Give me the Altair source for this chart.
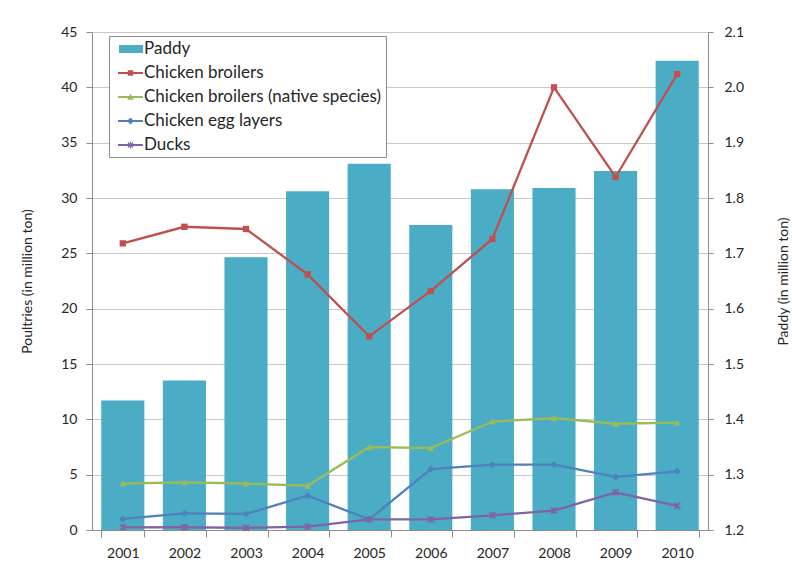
import altair as alt
import pandas as pd

years = ["2001", "2002", "2003", "2004", "2005", "2006", "2007", "2008", "2009", "2010"]
paddy = [1.434, 1.470, 1.693, 1.812, 1.862, 1.751, 1.816, 1.818, 1.849, 2.048]
chicken_broilers = [25.9, 27.4, 27.2, 23.1, 17.5, 21.6, 26.3, 40.0, 31.9, 41.2]
chicken_native = [4.2, 4.3, 4.2, 4.0, 7.5, 7.4, 9.8, 10.1, 9.6, 9.7]
chicken_egg = [1.0, 1.5, 1.45, 3.1, 0.96, 5.5, 5.9, 5.9, 4.8, 5.3]
ducks = [0.24, 0.25, 0.2, 0.3, 0.96, 0.96, 1.33, 1.75, 3.4, 2.17]

series_names = ["Paddy", "Chicken broilers", "Chicken broilers (native species)",
                "Chicken egg layers", "Ducks"]
series_colors = ["#4BACC6", "#C0504D", "#9BBB59", "#4F81BD", "#8064A2"]
left_ticks = [0, 5, 10, 15, 20, 25, 30, 35, 40, 45]
right_ticks = [1.2, 1.3, 1.4, 1.5, 1.6, 1.7, 1.8, 1.9, 2.0, 2.1]

FONT = "Lato"
TXT = "#262626"
AXC = "#8C8C8C"

paddy_df = pd.DataFrame({"year": years, "value": paddy, "series": "Paddy"})
line_series = {
    "Chicken broilers": chicken_broilers,
    "Chicken broilers (native species)": chicken_native,
    "Chicken egg layers": chicken_egg,
    "Ducks": ducks,
}
line_df = pd.concat(
    [pd.DataFrame({"year": years, "value": v, "series": k}) for k, v in line_series.items()],
    ignore_index=True,
)
legend_df = pd.DataFrame({"series": series_names})

color_scale = alt.Scale(domain=series_names, range=series_colors)

# legend symbols (filled paths): line segment + marker
LINE = "M-0.44,-0.12H2.33V0.12H-0.44Z"
legend_paths = [
    "M-0.33,-0.44H2.33V0.44H-0.33Z",
    LINE + "M0.64,-0.3H1.24V0.3H0.64Z",
    LINE + "M0.94,-0.4L1.31,0.3H0.57Z",
    LINE + "M0.94,-0.38L1.32,0L0.94,0.38L0.56,0Z",
    LINE + "M0.61,-0.23L0.71,-0.33L1.27,0.23L1.17,0.33Z"
         + "M1.17,-0.33L1.27,-0.23L0.71,0.33L0.61,0.23Z"
         + "M0.89,-0.4H0.99V0.4H0.89Z",
]

legend = alt.Legend(
    orient="none", legendX=17, legendY=4, title=None,
    symbolSize=324, symbolStrokeWidth=0, symbolOpacity=1,
    labelOffset=13, rowPadding=7, padding=4,
    strokeColor="#8C8C8C", fillColor="white",
    labelFont=FONT, labelFontSize=17, labelColor=TXT, labelLimit=400,
)

x_enc = alt.X(
    "year:N",
    scale=alt.Scale(domain=years, paddingInner=0.3, paddingOuter=0.15),
    axis=alt.Axis(
        title=None, labelAngle=0, tickBand="extent", tickSize=7, labelPadding=9,
        labelFont=FONT, labelFontSize=14, labelColor=TXT,
        domainColor=AXC, tickColor=AXC, labelBaseline="top",
    ),
)

y_left = alt.Y(
    "value:Q",
    scale=alt.Scale(domain=[0, 45], nice=False, zero=True),
    axis=alt.Axis(
        orient="left", values=left_ticks, grid=True, gridColor="#C8C8C8",
        tickSize=6, labelPadding=9, labelFont=FONT, labelFontSize=14, labelColor=TXT,
        domainColor=AXC, tickColor=AXC,
        title="Poultries (in million ton)", titleFont=FONT, titleFontSize=14,
        titleFontWeight="normal", titleColor=TXT, titleAngle=270,
        titleX=-65, titleY=249, titleAlign="center", titleBaseline="middle",
    ),
)

y_right = alt.Y(
    "value:Q",
    scale=alt.Scale(domain=[1.2, 2.1], nice=False, zero=False),
    axis=alt.Axis(
        orient="right", values=right_ticks, format=".1f", grid=False,
        tickSize=5, labelPadding=11, labelFont=FONT, labelFontSize=14, labelColor=TXT,
        domainColor=AXC, tickColor=AXC,
        title="Paddy (in million ton)", titleFont=FONT, titleFontSize=14,
        titleFontWeight="normal", titleColor=TXT, titleAngle=270,
        titleX=75, titleY=249, titleAlign="center", titleBaseline="middle",
    ),
)

legend_layer = alt.Chart(legend_df).transform_filter("false").mark_point(
    filled=True, opacity=1
).encode(
    color=alt.Color("series:N", scale=color_scale, legend=legend),
    shape=alt.Shape("series:N", scale=alt.Scale(domain=series_names, range=legend_paths), legend=legend),
)

bars = alt.Chart(paddy_df).mark_bar().encode(
    x=x_enc,
    y=y_right,
    y2=alt.datum(1.2),
    color=alt.Color("series:N", scale=color_scale, legend=None),
)

lines = alt.Chart(line_df).mark_line(strokeWidth=2.3).encode(
    x=x_enc,
    y=y_left,
    color=alt.Color("series:N", scale=color_scale, legend=None),
)

marker_specs = [
    ("Chicken broilers", dict(shape="square", filled=True, size=40)),
    ("Chicken broilers (native species)", dict(shape="triangle-up", filled=True, size=45)),
    ("Chicken egg layers", dict(shape="diamond", filled=True, size=50)),
    ("Ducks", dict(shape="M-1,-1L1,1M-1,1L1,-1M0,-1V1", filled=False, size=40, strokeWidth=1.5)),
]
point_layers = []
for name, spec in marker_specs:
    point_layers.append(
        alt.Chart(line_df).transform_filter(alt.datum.series == name)
        .mark_point(opacity=1, **spec)
        .encode(
            x=x_enc,
            y=y_left,
            color=alt.Color("series:N", scale=color_scale, legend=None),
        )
    )

poultry = alt.layer(lines, *point_layers)

chart = alt.layer(legend_layer, bars, poultry).resolve_scale(
    y="independent"
).properties(
    width=616, height=498,
    autosize=alt.AutoSizeParams(type="none"),
    padding={"left": 92, "top": 32, "right": 84, "bottom": 50},
).configure_view(stroke=None).configure(background="white")

chart.save("out.html", embed_options={"renderer": "svg", "actions": False})
